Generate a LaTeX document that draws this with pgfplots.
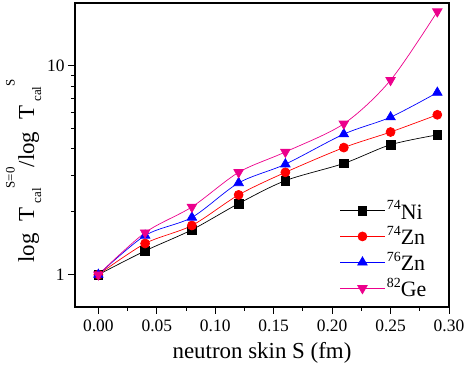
\documentclass[border=0pt]{standalone}
\usepackage{fontspec}
\setmainfont{Liberation Serif}
\usepackage{pgfplots}
\pgfplotsset{compat=1.18}
\newcommand{\sups}[1]{\raisebox{0.42em}{\fontsize{14}{14}\selectfont #1}}
\newcommand{\scr}[2]{\raisebox{#1}{\fontsize{13}{13}\selectfont #2}}
\begin{document}
\begin{tikzpicture}
\useasboundingbox (-75bp,-63bp) rectangle (393bp,307bp);
\begin{axis}[
  at={(0,0)}, anchor=south west,
  scale only axis, width=374bp, height=304bp,
  xmin=-0.02, xmax=0.30, ymode=log, ymin=0.7, ymax=20,
  xtick={0,0.05,...,0.30},
  xticklabels={0.00,0.05,0.10,0.15,0.20,0.25,0.30},
  minor x tick num=1,
  ytick={1,10}, yticklabels={1,10},
  tick align=outside, xtick pos=bottom, ytick pos=left,
  major tick length=7bp, minor tick length=4bp,
  every tick/.style={black, line width=0.9bp},
  axis line style={line width=1.1bp},
  /pgf/number format/assume math mode=true,
  tick label style={font=\fontsize{17.5}{20}\selectfont},
  xticklabel style={yshift=-2bp},
  xlabel={neutron skin S (fm)},
  ylabel={log\hspace{12bp}T\hspace{4bp}\scr{-0.3em}{cal}\scr{0.85em}{S=0}/log\hspace{12bp}T\hspace{4bp}\scr{-0.3em}{cal}\scr{0.85em}{S}},
  label style={font=\fontsize{23}{26}\selectfont},
  xlabel style={yshift=-4bp},
  ylabel style={yshift=-1bp, xshift=-16bp},
  legend style={draw=none, fill=none, at={(rel axis cs:0.70,0.015)}, anchor=south west,
    font=\fontsize{22}{24}\selectfont, row sep=2bp},
  legend cell align=left,
  legend image code/.code={\draw[mark repeat=2,mark phase=2] plot coordinates {(0cm,0cm)(0.78cm,0cm)(1.56cm,0cm)};},
]
\addplot[black, line width=0.7bp, smooth, mark=square*, mark size=4.3bp, mark options={solid}] coordinates {
(0,1) (0.04,1.30) (0.08,1.64) (0.12,2.19) (0.16,2.82) (0.21,3.41) (0.25,4.19) (0.29,4.67)};
\addlegendentry{\sups{74}Ni}
\addplot[red, line width=0.7bp, smooth, mark=*, mark size=4.5bp] coordinates {
(0,1) (0.04,1.41) (0.08,1.72) (0.12,2.41) (0.16,3.09) (0.21,4.06) (0.25,4.82) (0.29,5.83)};
\addlegendentry{\sups{74}Zn}
\addplot[blue, line width=0.7bp, smooth, mark=triangle*, mark size=5.5bp] coordinates {
(0,1) (0.04,1.54) (0.08,1.88) (0.12,2.75) (0.16,3.38) (0.21,4.71) (0.25,5.68) (0.29,7.45)};
\addlegendentry{\sups{76}Zn}
\addplot[magenta, line width=0.7bp, smooth, mark=triangle*, mark size=5.5bp, mark options={rotate=180}] coordinates {
(0,1) (0.04,1.59) (0.08,2.11) (0.12,3.09) (0.16,3.87) (0.21,5.28) (0.25,8.54) (0.29,18.2)};
\addlegendentry{\sups{82}Ge}
\end{axis}
\end{tikzpicture}
\end{document}
